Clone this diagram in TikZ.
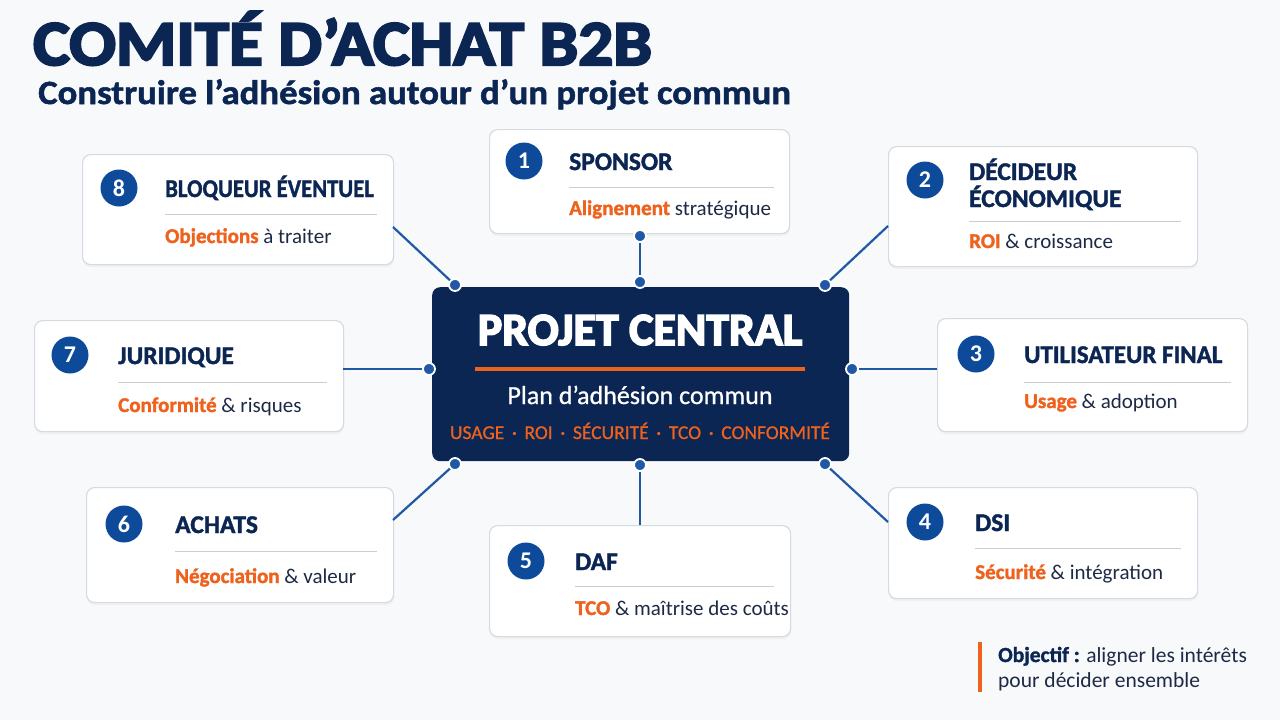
\documentclass[tikz,border=0pt]{standalone}
\usepackage{fontspec}
\setmainfont{Carlito}
\newfontfamily\heavyfont[FakeBold=3.5]{Carlito}
\newfontfamily\semifont[FakeBold=1.5]{Carlito}
\newfontfamily\midfont[FakeBold=0.8]{Carlito}
\definecolor{bg}{HTML}{F8F9FB}
\definecolor{navy}{HTML}{0C2654}
\definecolor{numblue}{HTML}{0D4A9A}
\definecolor{orange}{HTML}{EE621E}
\definecolor{connblue}{HTML}{2158A6}
\definecolor{cardline}{HTML}{D6DBE2}
\definecolor{sepgray}{HTML}{C9CED6}
\definecolor{dark}{HTML}{1E2A45}
\tikzset{
  card/.style={draw=cardline, fill=white, rounded corners=8pt, line width=1.2pt, anchor=north west, inner sep=0pt},
  num/.style={circle, fill=numblue, text=white, minimum size=37pt, inner sep=0pt, font=\bfseries\fontsize{24}{24}\selectfont},
  ttl/.style={anchor=base west, text=navy, inner sep=0pt, font=\semifont\bfseries\fontsize{25.5}{26}\selectfont},
  sub/.style={anchor=base west, text=dark, inner sep=0pt, font=\fontsize{21}{22}\selectfont},
  sepline/.style={draw=sepgray, line width=1pt},
  conn/.style={draw=connblue, line width=2.2pt},
  dot/.style={circle, fill=connblue, draw=white, line width=1.8pt, minimum size=12pt, inner sep=0pt},
}
\newcommand{\hl}[1]{{\semifont\bfseries\color{orange}#1}}
\begin{document}
\begin{tikzpicture}[x=1pt,y=-1pt]
\fill[bg] (0,0) rectangle (1280,720);
\useasboundingbox (0,0) rectangle (1280,720);

% title
\node[anchor=base west, inner sep=0pt, text=navy, font=\heavyfont\bfseries\fontsize{64}{64}\selectfont] (title) at (33,65) {\scalebox{1.08}[1]{COMITÉ D’ACHAT B2B}};
\node[anchor=base west, inner sep=0pt, text=navy, font=\semifont\bfseries\fontsize{34}{34}\selectfont] (subtitle) at (38,104) {\scalebox{1.08}[1]{Construire l’adhésion autour d’un projet commun}};

% central
\node[fill=navy, rounded corners=8pt, minimum width=417pt, minimum height=174pt, anchor=north west, inner sep=0pt] (center) at (432,287) {};
\node[anchor=base, inner sep=0pt, text=white, font=\heavyfont\bfseries\fontsize{46}{46}\selectfont] (ctitle) at (640,345) {PROJET CENTRAL};
\draw[orange, line width=4pt] (475,369) -- (805,369);
\node[anchor=base, inner sep=0pt, text=white, font=\midfont\fontsize{26}{26}\selectfont] (cplan) at (640,404) {Plan d’adhésion commun};
\node[anchor=base, inner sep=0pt, text=orange, font=\midfont\fontsize{19.5}{22}\selectfont] (ckeys) at (640,439) {USAGE \,·\, ROI \,·\, SÉCURITÉ \,·\, TCO \,·\, CONFORMITÉ};

% card shadows
\foreach \x/\y/\w/\h in {489/129/300/104, 888/146/309/120, 937/318/310/113, 888/487/309/111, 489/525/301/111, 86/487/307/115, 34/320/309/111, 82/154/311/110}
  \fill[black!6, rounded corners=8pt] (\x+1,\y+3) rectangle ++(\w,\h);

% cards
\node[card, minimum width=300pt, minimum height=104pt] (b1) at (489,129) {};
\node[card, minimum width=309pt, minimum height=120pt] (b2) at (888,146) {};
\node[card, minimum width=310pt, minimum height=113pt] (b3) at (937,318) {};
\node[card, minimum width=309pt, minimum height=111pt] (b4) at (888,487) {};
\node[card, minimum width=301pt, minimum height=111pt] (b5) at (489,525) {};
\node[card, minimum width=307pt, minimum height=115pt] (b6) at (86,487) {};
\node[card, minimum width=309pt, minimum height=111pt] (b7) at (34,320) {};
\node[card, minimum width=311pt, minimum height=110pt] (b8) at (82,154) {};

% card 1
\node[num] (n1) at (524,161) {1};
\node[ttl] (t1) at (569,170) {SPONSOR};
\draw[sepline] (569,187) -- (774,187);
\node[sub] (s1) at (569,215) {\hl{Alignement} stratégique};
% card 2
\node[num] (n2) at (925,180) {2};
\node[ttl] (t2a) at (969,180) {DÉCIDEUR};
\node[ttl] (t2b) at (969,207) {ÉCONOMIQUE};
\draw[sepline] (969,221) -- (1181,221);
\node[sub] (s2) at (969,248) {\hl{ROI} \& croissance};
% card 3
\node[num] (n3) at (976,354) {3};
\node[ttl] (t3) at (1024,363) {\scalebox{0.98}[1]{UTILISATEUR FINAL}};
\draw[sepline] (1024,382) -- (1231,382);
\node[sub] (s3) at (1024,408) {\hl{Usage} \& adoption};
% card 4
\node[num] (n4) at (925,522) {4};
\node[ttl] (t4) at (975,531) {DSI};
\draw[sepline] (975,548) -- (1181,548);
\node[sub] (s4) at (975,579) {\hl{Sécurité} \& intégration};
% card 5
\node[num] (n5) at (526,561) {5};
\node[ttl] (t5) at (575,570) {DAF};
\draw[sepline] (575,586) -- (774,586);
\node[sub] (s5) at (575,615) {\hl{TCO} \& maîtrise des coûts};
% card 6
\node[num] (n6) at (124,524) {6};
\node[ttl] (t6) at (175,533) {ACHATS};
\draw[sepline] (175,551) -- (377,551);
\node[sub] (s6) at (175,583) {\hl{Négociation} \& valeur};
% card 7
\node[num] (n7) at (70,355) {7};
\node[ttl] (t7) at (118,364) {JURIDIQUE};
\draw[sepline] (118,382) -- (327,382);
\node[sub] (s7) at (118,412) {\hl{Conformité} \& risques};
% card 8
\node[num] (n8) at (119,188) {8};
\node[ttl] (t8) at (165,197) {\scalebox{0.89}[1]{BLOQUEUR ÉVENTUEL}};
\draw[sepline] (165,214) -- (377,214);
\node[sub] (s8) at (165,243) {\hl{Objections} à traiter};

% connector end points
\coordinate (dT) at (640,282);
\coordinate (dTL) at (455,285);
\coordinate (dTR) at (825,285);
\coordinate (dL) at (429,369);
\coordinate (dR) at (852,369);
\coordinate (dBL) at (455,464);
\coordinate (dB) at (640,465);
\coordinate (dBR) at (825,464);
\coordinate (e1) at (640,236);
\coordinate (e2) at (888,226);
\coordinate (e3) at (937,369);
\coordinate (e4) at (888,522);
\coordinate (e5) at (640,525);
\coordinate (e6) at (393,520);
\coordinate (e7) at (343,369);
\coordinate (e8) at (393,227);

\draw[conn] (e1) -- (dT);
\draw[conn] (e2) -- (dTR);
\draw[conn] (e3) -- (dR);
\draw[conn] (e4) -- (dBR);
\draw[conn] (e5) -- (dB);
\draw[conn] (e6) -- (dBL);
\draw[conn] (e7) -- (dL);
\draw[conn] (e8) -- (dTL);
\foreach \p in {dT,dTL,dTR,dL,dR,dBL,dB,dBR,e1}
  \node[dot] at (\p) {};

% objective
\fill[orange] (978,642) rectangle (982,692);
\node[anchor=base west, inner sep=0pt, text=dark, font=\fontsize{21.5}{22}\selectfont] (obj1) at (998,662) {{\semifont\bfseries\color{navy}Objectif :} aligner les intérêts};
\node[anchor=base west, inner sep=0pt, text=dark, font=\fontsize{21.5}{22}\selectfont] (obj2) at (998,687) {pour décider ensemble};
\end{tikzpicture}
\end{document}
